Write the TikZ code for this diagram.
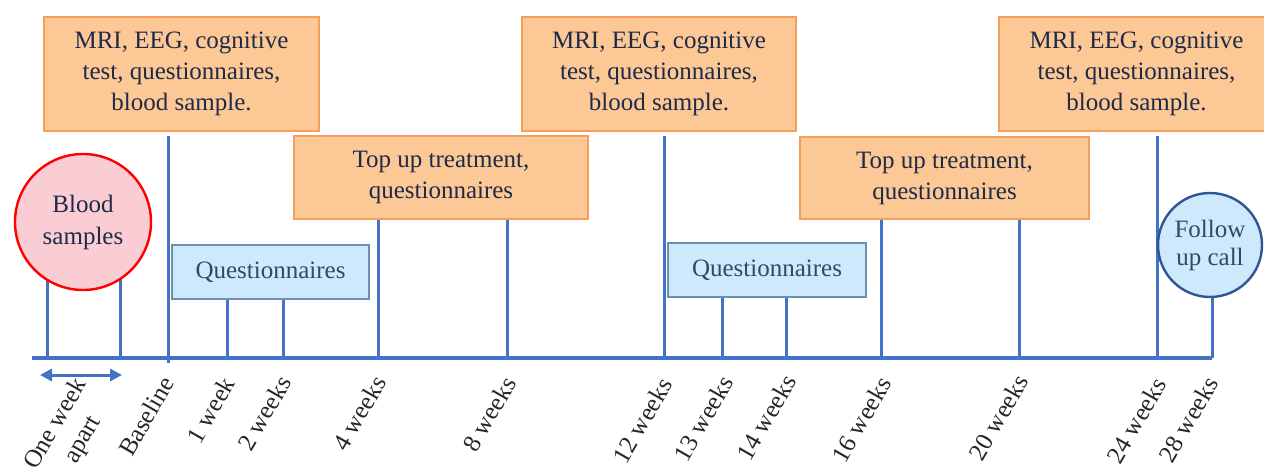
\documentclass[tikz,border=0pt]{standalone}
\usepackage{fontspec}
\setmainfont{Liberation Serif}
\usetikzlibrary{arrows.meta,backgrounds}
\definecolor{lineblue}{HTML}{4472C4}
\definecolor{ofill}{HTML}{FCC896}
\definecolor{oborder}{HTML}{F5A05A}
\definecolor{qfill}{HTML}{CDE9FB}
\definecolor{qborder}{HTML}{6D8FB0}
\definecolor{qtext}{HTML}{2E4A6B}
\definecolor{navy}{HTML}{1F2A48}
\definecolor{pinkfill}{HTML}{F9CDD3}
\definecolor{fborder}{HTML}{2F5597}
\tikzset{
  obox/.style={draw=oborder, fill=ofill, line width=1pt, text=navy, align=center, inner sep=0pt},
  qbox/.style={draw=qborder, fill=qfill, line width=0.8pt, text=qtext, align=center, inner sep=0pt},
  tickline/.style={draw=lineblue, line width=1.5pt},
  lbl/.style={rotate=60, anchor=east, inner sep=1pt, text=black!85},
}
\begin{document}
\begin{tikzpicture}[x=0.5pt,y=-0.5pt, font=\fontsize{12.5}{15.5}\selectfont]
\clip (0,0) rectangle (1264,470);
\useasboundingbox (0,0) rectangle (1264,470);

% nodes
\node[obox, minimum width=137.5pt, minimum height=57pt] (m1) at (181.5,74) {MRI, EEG, cognitive\\test, questionnaires,\\blood sample.};
\node[obox, minimum width=137pt, minimum height=57pt] (m2) at (659,74) {MRI, EEG, cognitive\\test, questionnaires,\\blood sample.};
\node[obox, minimum width=137.5pt, minimum height=57pt] (m3) at (1136.5,74) {MRI, EEG, cognitive\\test, questionnaires,\\blood sample.};
\node[obox, minimum width=147pt, minimum height=41.5pt] (tu1) at (441,177.5) {Top up treatment,\\questionnaires};
\node[obox, minimum width=144.5pt, minimum height=41pt] (tu2) at (944.5,178) {Top up treatment,\\questionnaires};
\node[qbox, minimum width=98.5pt, minimum height=27pt] (q1) at (270.5,272) {Questionnaires};
\node[qbox, minimum width=99pt, minimum height=27pt] (q2) at (767,270) {Questionnaires};
\node[circle, draw=red, fill=pinkfill, line width=1.2pt, minimum size=68pt, inner sep=0pt, align=center, text=navy, font=\fontsize{12.5}{16}\selectfont] (blood) at (83,222) {Blood\\samples};
\node[circle, draw=fborder, fill=qfill, line width=1.2pt, minimum size=52pt, inner sep=0pt, align=center, text=qtext, font=\fontsize{12.5}{14}\selectfont] (follow) at (1210,245) {Follow\\up call};

% timeline coordinates
\coordinate (tl0) at (32,358);
\coordinate (ta) at (47,358);
\coordinate (tb) at (120,358);
\coordinate (tbase) at (168,358);
\coordinate (tbasebot) at (168,363);
\coordinate (t1) at (227,358);
\coordinate (t2) at (283,358);
\coordinate (t4) at (378,358);
\coordinate (t8) at (507,358);
\coordinate (t12) at (664,358);
\coordinate (t13) at (722,358);
\coordinate (t14) at (786,358);
\coordinate (t16) at (881,358);
\coordinate (t20) at (1019,358);
\coordinate (t24) at (1157,358);
\coordinate (t28) at (1212,358);

\begin{scope}[on background layer]
\draw[tickline] (ta) -- (ta |- blood.center);
\draw[tickline] (tb) -- (tb |- blood.center);
\draw[tickline] (tbasebot) -- ([yshift=-2pt]tbase |- m1.south);
\draw[tickline] (t1) -- (t1 |- q1.south);
\draw[tickline] (t2) -- (t2 |- q1.south);
\draw[tickline] (t4) -- (t4 |- tu1.south);
\draw[tickline] (t8) -- (t8 |- tu1.south);
\draw[tickline] (t12) -- ([yshift=-2pt]t12 |- m2.south);
\draw[tickline] (t13) -- (t13 |- q2.south);
\draw[tickline] (t14) -- (t14 |- q2.south);
\draw[tickline] (t16) -- (t16 |- tu2.south);
\draw[tickline] (t20) -- (t20 |- tu2.south);
\draw[tickline] (t24) -- ([yshift=-2pt]t24 |- m3.south);
\draw[tickline] (t28) -- (t28 |- follow.center);
\draw[draw=lineblue, line width=2pt] (tl0) -- (t28);
\end{scope}

% one week apart arrow
\coordinate (a1) at (40,375);
\coordinate (a2) at (122,375);
\draw[draw=lineblue, line width=1.5pt, {Triangle[length=6pt,width=6pt]}-{Triangle[length=6pt,width=6pt]}] (a1) -- (a2);

% labels
\node[rotate=60, inner sep=1pt, align=center, text=black!85] (lone) at (70,432) {One week\\apart};
\node[lbl] (lbase) at (169,377) {Baseline};
\node[lbl] (l1) at (230,377) {1 week};
\node[lbl] (l2) at (286,376) {2 weeks};
\node[lbl] (l4) at (381,376) {4 weeks};
\node[lbl] (l8) at (511,377) {8 weeks};
\node[lbl] (l12) at (667,378) {12 weeks};
\node[lbl] (l13) at (728,376) {13 weeks};
\node[lbl] (l14) at (791,375) {14 weeks};
\node[lbl] (l16) at (886,377) {16 weeks};
\node[lbl] (l20) at (1023,375) {20 weeks};
\node[lbl] (l24) at (1161,378) {24 weeks};
\node[lbl] (l28) at (1213,377) {28 weeks};
\end{tikzpicture}
\end{document}
